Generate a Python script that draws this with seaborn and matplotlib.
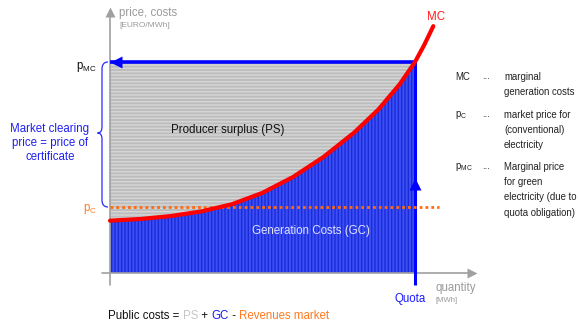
import matplotlib
matplotlib.use("Agg")
import matplotlib.pyplot as plt
from matplotlib.path import Path
from matplotlib.patches import PathPatch
import pandas as pd
import seaborn as sns

# ---- data -------------------------------------------------------------
# quantity in % of the quota, price in % of the marginal price p_MC
quantity = [0, 10, 20, 30, 40, 50, 60, 70, 80, 88, 95, 100, 103, 106]
marginal_cost = [24.8, 25.6, 27.0, 29.2, 32.6, 38.0, 45.5, 55.0, 66.5,
                 77.5, 89.5, 100.0, 108.0, 117.0]
quota = 100.0
p_mc = 100.0
p_c = 31.1

legend_keys = ["MC", r"$\mathregular{p_{C}}$", r"$\mathregular{p_{MC}}$"]
legend_texts = [["marginal", "generation costs"],
                ["market price for", "(conventional)", "electricity"],
                ["Marginal price", "for green", "electricity (due to",
                 "quota obligation)"]]

# ---- style ------------------------------------------------------------
sns.set_style("white")
plt.rcParams["font.family"] = ["Liberation Sans", "DejaVu Sans"]
plt.rcParams["hatch.linewidth"] = 1.0
plt.rcParams["mathtext.fontset"] = "custom"
plt.rcParams["mathtext.rm"] = "Liberation Sans"

W, H = 580, 324
fig = plt.figure(figsize=(W / 100, H / 100), dpi=100)
ax = fig.add_axes([0, 0, 1, 1])
ax.set_axis_off()

# layout of the diagram on the canvas (pixels)
X0, XQ = 110, 415      # origin and quota
Y0, YM = 273, 62       # origin and p_MC
sx = (XQ - X0) / quota
sy = (Y0 - YM) / p_mc
ax.set_xlim(-X0 / sx, (W - X0) / sx)
ax.set_ylim(-(H - Y0) / sy, Y0 / sy)


def px(x, y):
    """canvas pixel -> data coordinates"""
    return (x - X0) / sx, (Y0 - y) / sy


def fx(x, y):
    """canvas pixel -> figure fraction"""
    return x / W, 1 - y / H


df = pd.DataFrame({"quantity": quantity, "mc": marginal_cost})
inside = df[df["quantity"] <= quota]

BLUE = "#0000ff"
GRAY_AX = "#a0a0a0"
ORANGE = "#ff6a10"
RED = "#ff0000"

# producer surplus (grey, horizontal stripes)
ax.fill_between(inside["quantity"], inside["mc"], p_mc, facecolor="#bdbdbd",
                edgecolor="#d6d6d6", hatch="-----", linewidth=0, zorder=1)
# generation costs (blue, vertical stripes)
ax.fill_between(inside["quantity"], 0, inside["mc"], facecolor="#3a4ff5",
                edgecolor="#1d2ad6", hatch="|||||", linewidth=0, zorder=1)

# axes with arrow heads
ax.plot(*zip(px(102, Y0), px(470, Y0)), color=GRAY_AX, lw=1.2, zorder=2)
ax.plot(*px(472, Y0), marker=">", ms=7, color=GRAY_AX, mec="none", zorder=2)
ax.plot(*zip(px(X0 - 0.5, 285), px(X0 - 0.5, 16)), color=GRAY_AX, lw=1.2,
        zorder=2)
ax.plot(*px(X0 - 0.5, 12), marker="^", ms=7, color=GRAY_AX, mec="none",
        zorder=2)

# p_C market price (dotted orange)
ax.plot([0, px(439, 0)[0]], [p_c, p_c], color=ORANGE, lw=2.0,
        dashes=(1, 1.1), dash_capstyle="butt", zorder=4)

# quota line and p_MC line
qy0 = px(0, 285)[1]
ax.plot([quota, quota], [qy0, p_mc], color=BLUE, lw=2.2, zorder=3,
        solid_capstyle="butt")
ax.plot([0, quota], [p_mc, p_mc], color=BLUE, lw=2.6, zorder=3,
        solid_capstyle="butt")
ax.plot(px(116, 0)[0], p_mc, marker="<", ms=8, color=BLUE, mec="none",
        zorder=3)
ax.plot(quota, px(0, 184)[1], marker="^", ms=8, color=BLUE, mec="none",
        zorder=3)

# marginal cost curve
sns.lineplot(data=df, x="quantity", y="mc", color=RED, lw=3, sort=False,
             ax=ax, zorder=5)
ax.set_xlabel("")
ax.set_ylabel("")

# curly brace p_C .. p_MC
xr, xm, xl = 108, 102, 97.5
yt, yc, yb = 62, 133, 207
pts = [(xr, yt), (xm, yt), (xm, yt + 7), (xm, yc - 6), (xm, yc), (xl, yc),
       (xm, yc), (xm, yc + 6), (xm, yb - 7), (xm, yb), (xr, yb)]
codes = [Path.MOVETO, Path.CURVE3, Path.CURVE3, Path.LINETO, Path.CURVE3,
         Path.CURVE3, Path.CURVE3, Path.CURVE3, Path.LINETO, Path.CURVE3,
         Path.CURVE3]
brace = Path([px(*p) for p in pts], codes)
ax.add_patch(PathPatch(brace, facecolor="none", edgecolor="#2a2aff", lw=0.9,
                       zorder=3))

# ---- texts ------------------------------------------------------------
FS = 8.3
fig.text(*fx(119, 13), "price, costs", color="#9a9a9a", fontsize=FS,
         va="center")
fig.text(*fx(119, 25.5), "[EURO/MWh]", color="#9a9a9a", fontsize=6,
         va="center")
fig.text(*fx(97, 67), r"$\mathregular{p_{MC}}$", color="#111111",
         fontsize=FS, ha="right", va="center")
fig.text(*fx(97, 209), r"$\mathregular{p_{C}}$", color="#ff7a20",
         fontsize=FS, ha="right", va="center")
fig.text(*fx(50, 143), "Market clearing\nprice = price of\ncertificate",
         color="#2020f0", fontsize=FS, ha="center", va="center",
         linespacing=1.25)
fig.text(*fx(436, 17), "MC", color="#ff1a1a", fontsize=FS, ha="center",
         va="center")
fig.text(*fx(228, 130), "Producer surplus (PS)", color="#111111",
         fontsize=FS, ha="center", va="center")
fig.text(*fx(311, 231), "Generation Costs (GC)", color="#dfe3ff",
         fontsize=FS, ha="center", va="center")
fig.text(*fx(435, 288), "quantity", color="#9a9a9a", fontsize=FS,
         va="center")
fig.text(*fx(435, 300), "[MWh]", color="#9a9a9a", fontsize=5.5,
         va="center")
fig.text(*fx(410, 299), "Quota", color="#1a1aff", fontsize=FS, ha="center",
         va="center")

# public costs equation, coloured part by part
parts = [("Public costs = ", "#111111"), ("PS", "#c6c6c6"),
         (" + ", "#111111"), ("GC", "#1a1aff"), (" - ", "#111111"),
         ("Revenues market", "#ff7a20")]
t = fig.text(*fx(108, 322), parts[0][0], color=parts[0][1], fontsize=FS,
             va="bottom")
for s, c in parts[1:]:
    t = ax.annotate(s, xy=(1, 0), xycoords=t, color=c, fontsize=FS,
                    va="bottom", ha="left")

# legend on the right
LFS = 6.9
rows = [77, 115, 167]
for key, lines, y in zip(legend_keys, legend_texts, rows):
    fig.text(*fx(455, y), key, color="#222222", fontsize=LFS, va="center")
    fig.text(*fx(482, y - 1), "...", color="#222222", fontsize=LFS,
             va="center")
    for i, line in enumerate(lines):
        fig.text(*fx(504, y + i * 15.2), line, color="#222222", fontsize=LFS,
                 va="center")

fig.savefig("out.png", dpi=100)
